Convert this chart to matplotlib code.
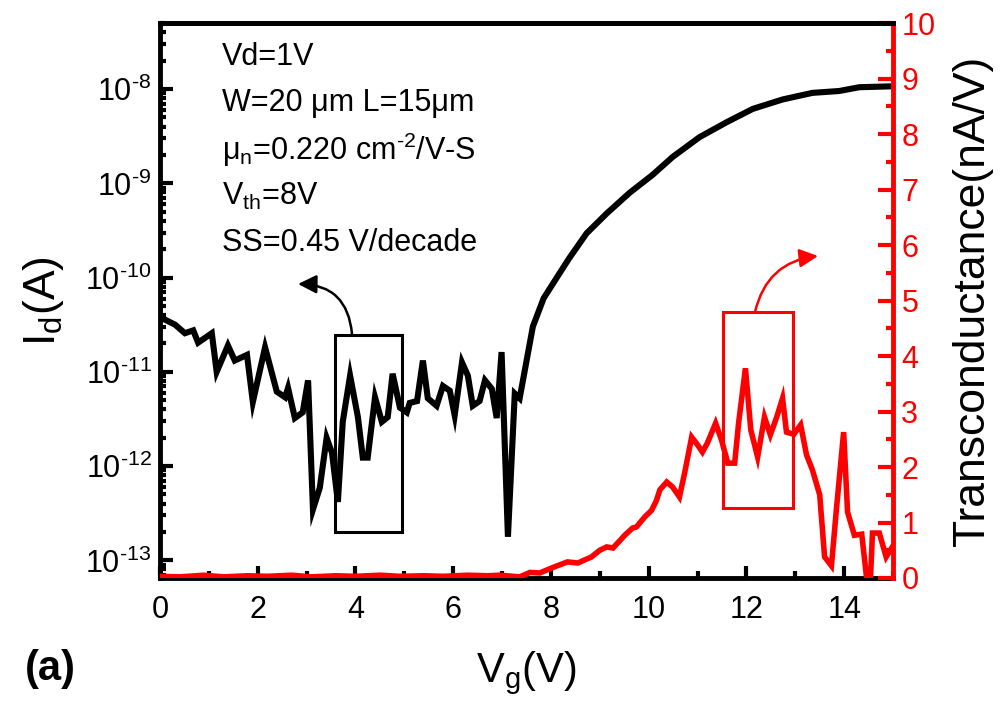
import numpy as np
import matplotlib
matplotlib.use('Agg')
from matplotlib import pyplot as plt
from matplotlib.ticker import LogLocator, MultipleLocator, NullFormatter, FuncFormatter
from matplotlib.patches import Rectangle

plt.rcParams['font.family'] = ['Liberation Sans', 'DejaVu Sans']
plt.rcParams['mathtext.fontset'] = 'custom'
plt.rcParams['mathtext.rm'] = 'Liberation Sans'
plt.rcParams['mathtext.it'] = 'Liberation Sans'
plt.rcParams['mathtext.default'] = 'regular'

# drain current (exponent of 10)
vg_id = [0.0, 0.31, 0.51, 0.68, 0.78, 1.06, 1.16, 1.39, 1.53, 1.78, 1.90, 2.15,
         2.39, 2.56, 2.62, 2.76, 2.92, 3.03, 3.13, 3.27, 3.41, 3.52, 3.64, 3.74,
         3.89, 4.05, 4.15, 4.25, 4.40, 4.54, 4.66, 4.76, 4.91, 5.05, 5.11, 5.26,
         5.38, 5.48, 5.66, 5.79, 5.93, 6.03, 6.18, 6.30, 6.40, 6.54, 6.65, 6.79,
         6.89, 6.99, 7.12, 7.26, 7.36, 7.63, 7.85, 8.12, 8.38, 8.73, 9.14, 9.61,
         10.08, 10.49, 11.04, 11.60, 12.13, 12.74, 13.35, 13.90, 14.31, 15.0]
log_id = [-10.42, -10.50, -10.59, -10.56, -10.69, -10.59, -11.00, -10.72, -10.88,
          -10.82, -11.32, -10.74, -11.21, -11.27, -11.17, -11.49, -11.43, -11.09,
          -12.46, -12.23, -11.70, -11.86, -12.38, -11.53, -11.04, -11.48, -11.91,
          -11.91, -11.27, -11.53, -11.48, -11.02, -11.38, -11.43, -11.33, -11.31,
          -10.88, -11.28, -11.36, -11.15, -11.20, -11.46, -10.90, -11.04, -11.36,
          -11.31, -11.09, -11.18, -11.49, -10.79, -12.75, -11.23, -11.28, -10.52,
          -10.22, -10.00, -9.79, -9.53, -9.32, -9.10, -8.91, -8.72, -8.51, -8.35,
          -8.21, -8.11, -8.04, -8.02, -7.98, -7.97]

# transconductance (nA/V)
vg_gm = [0.0, 0.4, 0.9, 1.3, 1.8, 2.2, 2.7, 3.1, 3.6, 4.0, 4.5, 4.9, 5.4, 5.8,
         6.3, 6.7, 6.95, 7.36, 7.57, 7.77, 8.04, 8.34, 8.55, 8.83, 9.0, 9.14,
         9.27, 9.51, 9.67, 9.75, 9.92, 10.06, 10.16, 10.23, 10.37, 10.49, 10.63,
         10.74, 10.88, 11.0, 11.1, 11.2, 11.37, 11.49, 11.62, 11.76, 11.84, 11.98,
         12.09, 12.23, 12.37, 12.49, 12.62, 12.74, 12.82, 12.97, 13.11, 13.23,
         13.35, 13.50, 13.60, 13.74, 13.84, 13.99, 14.07, 14.21, 14.36, 14.46,
         14.54, 14.58, 14.72, 14.86, 14.98]
gm = [0.03, 0.02, 0.05, 0.02, 0.04, 0.03, 0.05, 0.02, 0.04, 0.03, 0.05, 0.03,
      0.04, 0.03, 0.05, 0.04, 0.05, 0.02, 0.10, 0.09, 0.19, 0.29, 0.27, 0.38,
      0.50, 0.56, 0.54, 0.77, 0.90, 0.92, 1.10, 1.22, 1.40, 1.59, 1.73, 1.64,
      1.46, 1.91, 2.54, 2.40, 2.27, 2.43, 2.79, 2.49, 2.07, 2.07, 2.79, 3.78,
      2.67, 2.18, 2.90, 2.58, 2.90, 3.24, 2.63, 2.59, 2.76, 2.22, 1.95, 1.50,
      0.38, 0.22, 1.22, 2.63, 1.19, 0.77, 0.79, 0.0, 0.02, 0.81, 0.81, 0.38, 0.55]

x_ticks = [0, 2, 4, 6, 8, 10, 12, 14]
info_lines = ['Vd=1V', 'W=20 \u03bcm L=15\u03bcm', '\u03bc$_n$=0.220 cm$^{\\text{-2}}$/V-S',
              'V$_{th}$=8V', 'SS=0.45 V/decade']


def log_label(v, pos):
    # Origin style: plain hyphen in the exponent
    return '$10^{\\text{-%d}}$' % round(-np.log10(v))


fig = plt.figure(figsize=(10, 7.04), dpi=100)
ax = fig.add_axes([0.16, 0.179, 0.733, 0.788])
ax2 = ax.twinx()

ax.plot(vg_id, 10 ** np.array(log_id), color='black', lw=4.4, solid_joinstyle='miter')
ax2.plot(vg_gm, gm, color='red', lw=4.0, solid_joinstyle='miter')

ax.set_yscale('log')
ax.set_xlim(0, 15)
ax.set_ylim(6.5e-14, 5.0e-8)
ax2.set_ylim(0, 10)

ax.set_xticks(x_ticks)
ax.xaxis.set_minor_locator(MultipleLocator(1))
ax.yaxis.set_major_locator(LogLocator(base=10, numticks=20))
ax.yaxis.set_major_formatter(FuncFormatter(log_label))
ax.yaxis.set_minor_locator(LogLocator(base=10, subs=np.arange(2, 10), numticks=20))
ax.yaxis.set_minor_formatter(NullFormatter())
ax2.yaxis.set_major_locator(MultipleLocator(1))
ax2.yaxis.set_minor_locator(MultipleLocator(0.5))

ax.tick_params(axis='both', which='major', direction='in', labelsize=22, width=3, length=9)
ax.tick_params(axis='both', which='minor', direction='in', width=3, length=4)
ax.tick_params(axis='x', which='major', pad=12)
ax.tick_params(axis='x', which='minor', length=5)
ax.tick_params(axis='y', which='major', pad=6)
ax2.tick_params(axis='y', which='major', direction='in', labelsize=22, width=3, length=11,
                color='red', labelcolor='red', pad=6)
ax2.tick_params(axis='y', which='minor', direction='in', width=3, length=5, color='red')

for a in (ax, ax2):
    for s in a.spines.values():
        s.set_linewidth(3.5)
ax.spines['right'].set_visible(False)
ax2.spines['left'].set_visible(False)
ax2.spines['bottom'].set_visible(False)
ax2.spines['right'].set_color('red')

ax.set_xlabel('V$_g$(V)', fontsize=30, labelpad=18)
ax.set_ylabel('I$_d$(A)', fontsize=32, labelpad=14)
ax2.set_ylabel('Transconductance(nA/V)', fontsize=32, labelpad=12)

for i, line in enumerate(info_lines):
    fig.text(0.222, 1 - (57 + 46.5 * i) / 704, line, fontsize=22, va='center', ha='left')

fig.text(0.025, 0.05, '(a)', fontsize=30, weight='bold', va='center')

# zoom boxes
ax.add_patch(Rectangle((3.58, 2.0e-13), 1.37, 2.45e-11 - 2.0e-13, fill=False,
                       ec='black', lw=2.2, zorder=5))
ax2.add_patch(Rectangle((11.53, 1.26), 1.42, 3.53, fill=False, ec='red', lw=2.2, zorder=5))

ax.annotate('', xy=(298, 420), xycoords='figure pixels', xytext=(352, 370),
            textcoords='figure pixels',
            arrowprops=dict(arrowstyle='-|>', color='black', lw=1.8, mutation_scale=28,
                            connectionstyle='arc3,rad=0.45', shrinkA=0, shrinkB=0))
ax2.annotate('', xy=(818, 448), xycoords='figure pixels', xytext=(755, 392),
             textcoords='figure pixels',
             arrowprops=dict(arrowstyle='-|>', color='red', lw=1.8, mutation_scale=28,
                             connectionstyle='arc3,rad=-0.35', shrinkA=0, shrinkB=0))

plt.savefig('out.png', dpi=100)
